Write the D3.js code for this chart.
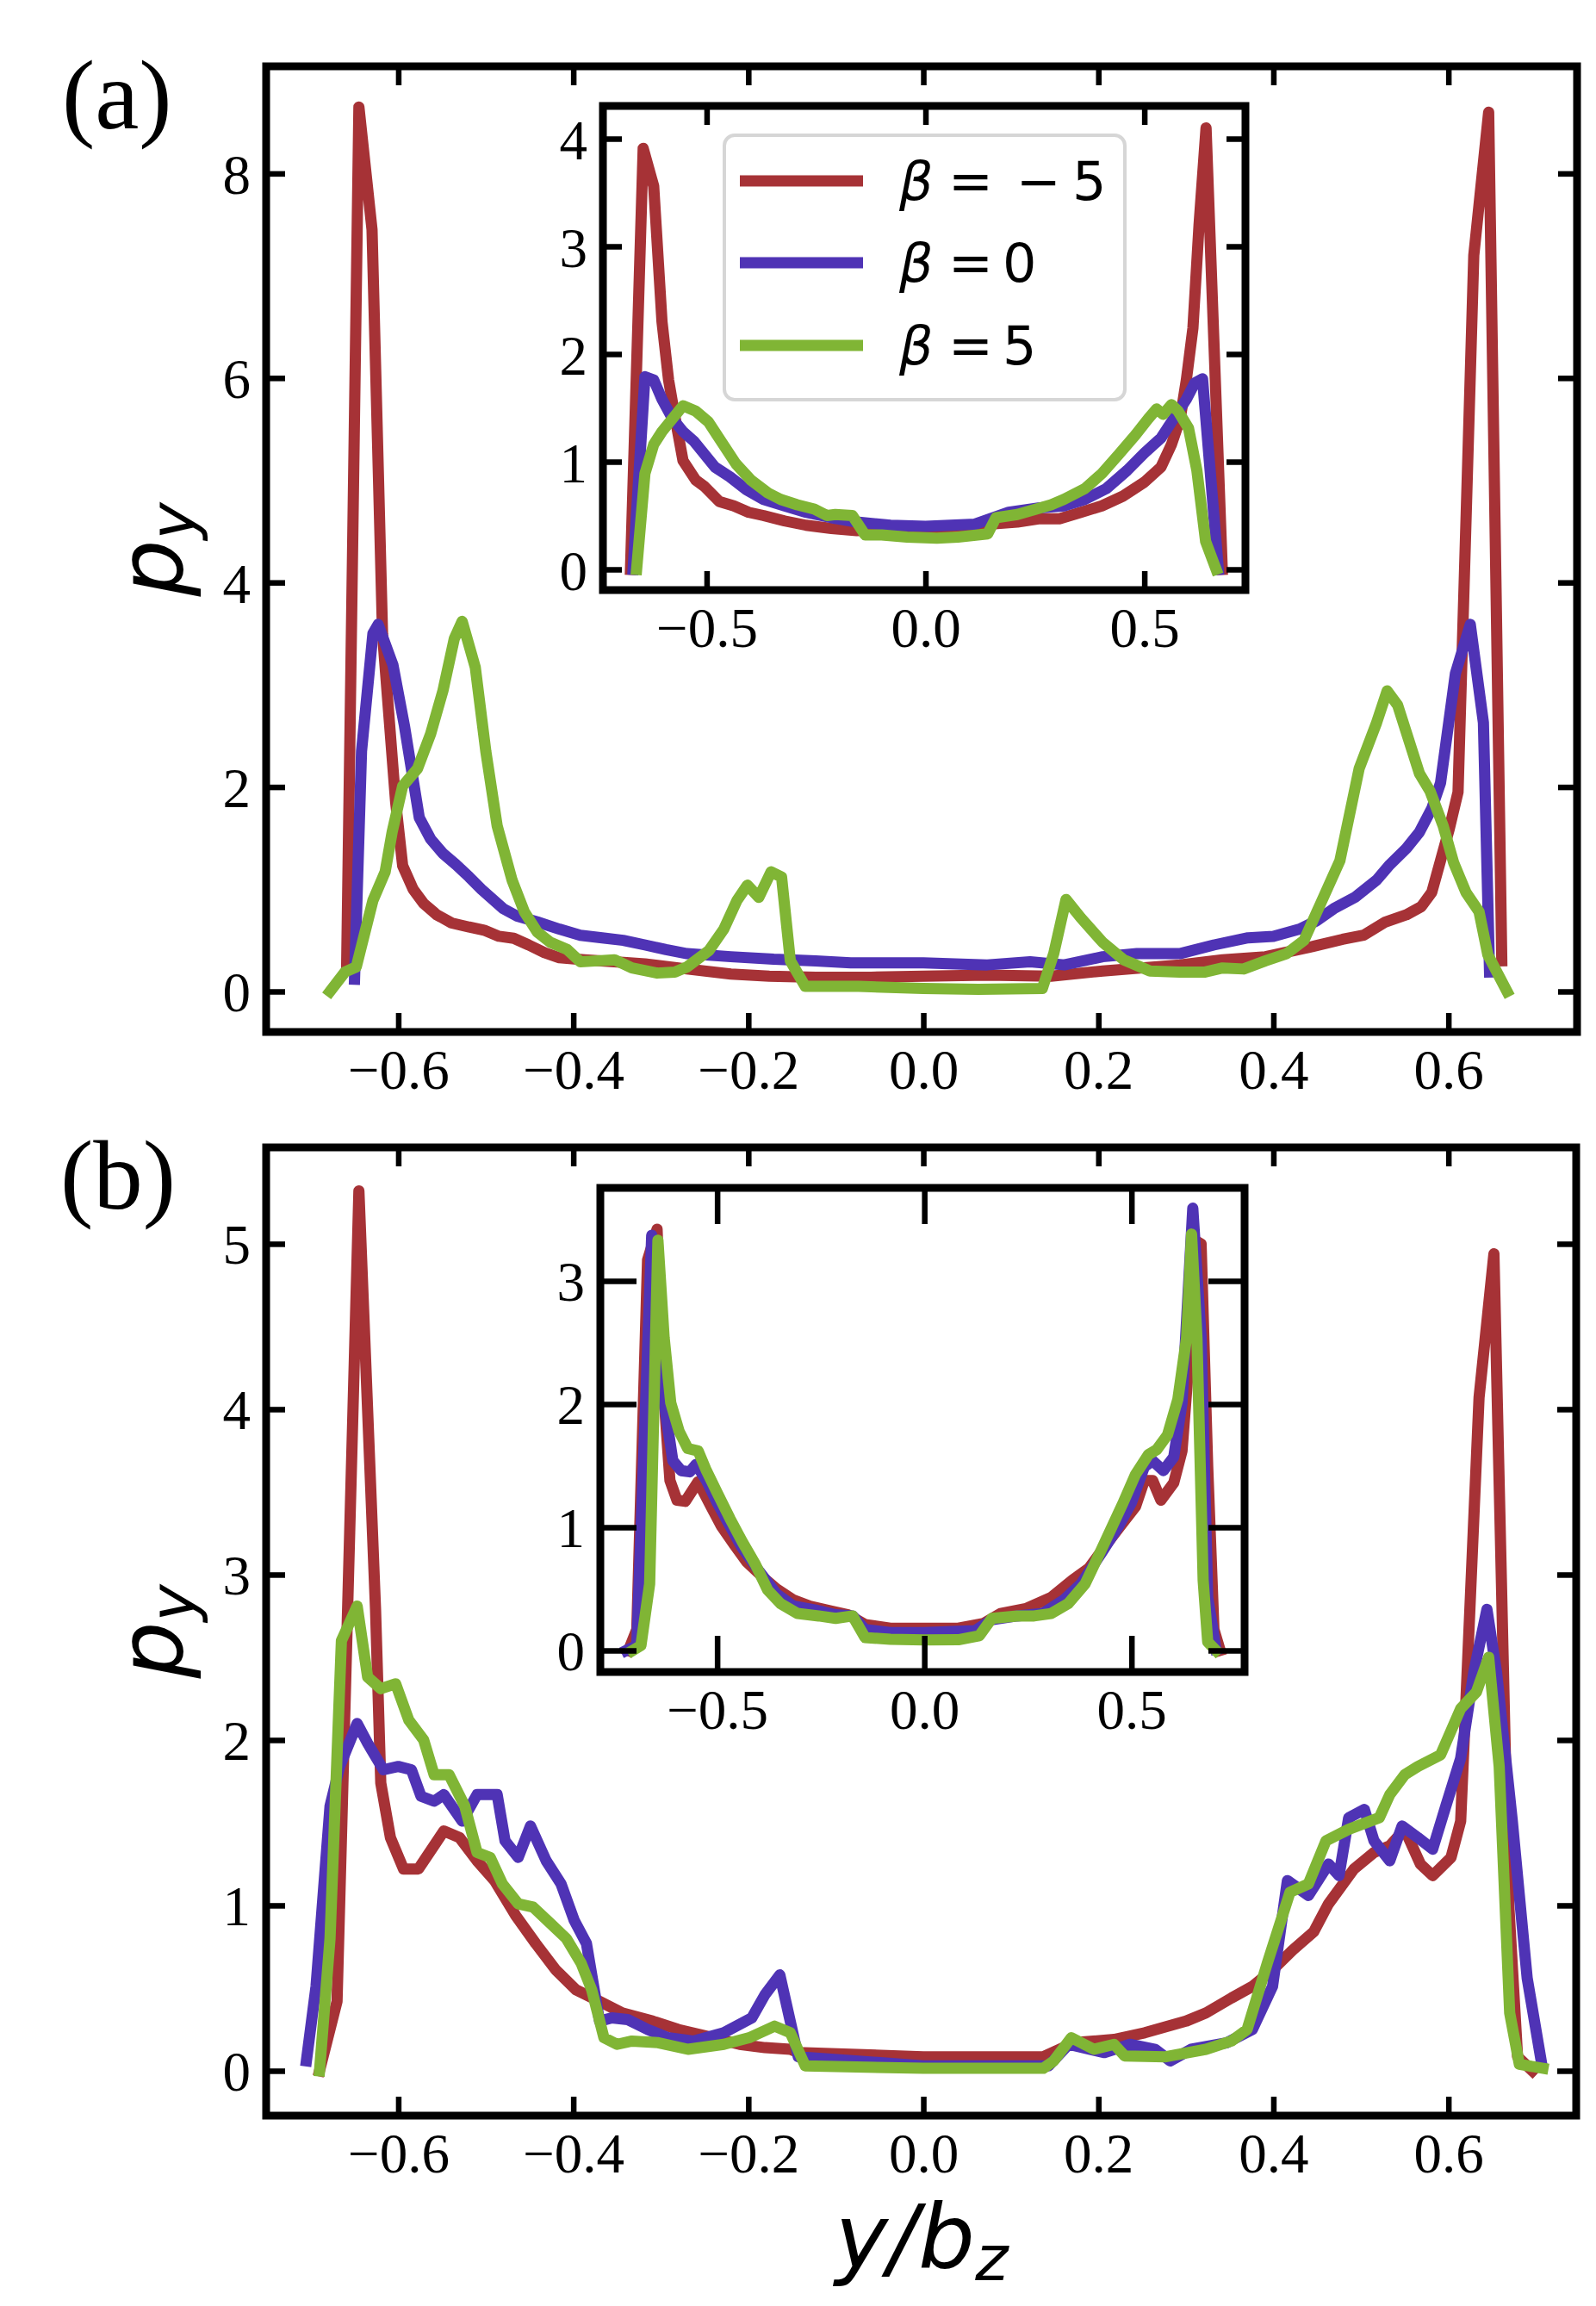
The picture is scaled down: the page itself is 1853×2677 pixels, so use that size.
<!DOCTYPE html>
<html>
<head>
<meta charset="utf-8">
<script src="https://cdn.jsdelivr.net/npm/d3@7"></script>
<style>
  html, body { margin: 0; padding: 0; background: #fff; }
  svg { display: block; }
</style>
</head>
<body>
<svg id="chart" width="1853" height="2677"></svg>
<script>
// ---------------- DATA ----------------
const seriesNames = ["\u03b2 = \u22125", "\u03b2 = 0", "\u03b2 = 5"];
const seriesColors = ["#a63236", "#4f33b5", "#80b535"];

const mainXTicks = [-0.6, -0.4, -0.2, 0.0, 0.2, 0.4, 0.6];
const insetXTicks = [-0.5, 0.0, 0.5];
const mainAYTicks = [0, 2, 4, 6, 8];
const mainBYTicks = [0, 1, 2, 3, 4, 5];
const insetAYTicks = [0, 1, 2, 3, 4];
const insetBYTicks = [0, 1, 2, 3];

// Panel (a), main axes
const aRed = [[-0.659,0.25],[-0.645,8.65],[-0.630,7.45],[-0.618,3.5],[-0.603,1.85],[-0.595,1.23],[-0.583,1.00],[-0.571,0.86],[-0.556,0.75],[-0.539,0.67],[-0.519,0.63],[-0.502,0.60],[-0.485,0.54],[-0.468,0.52],[-0.451,0.455],[-0.433,0.38],[-0.416,0.33],[-0.387,0.31],[-0.353,0.29],[-0.318,0.27],[-0.27,0.22],[-0.22,0.17],[-0.176,0.15],[-0.123,0.14],[-0.06,0.14],[0.0,0.15],[0.073,0.16],[0.146,0.15],[0.205,0.20],[0.293,0.26],[0.342,0.31],[0.391,0.34],[0.44,0.43],[0.479,0.51],[0.503,0.55],[0.528,0.68],[0.552,0.75],[0.569,0.83],[0.581,0.97],[0.591,1.28],[0.601,1.59],[0.611,1.95],[0.629,7.2],[0.646,8.6],[0.661,0.3]];
const aBlue = [[-0.650,0.12],[-0.642,2.35],[-0.629,3.5],[-0.623,3.59],[-0.606,3.19],[-0.593,2.6],[-0.576,1.70],[-0.563,1.49],[-0.549,1.35],[-0.534,1.24],[-0.519,1.12],[-0.505,1.0],[-0.48,0.81],[-0.465,0.74],[-0.441,0.68],[-0.416,0.61],[-0.392,0.55],[-0.367,0.525],[-0.343,0.50],[-0.318,0.455],[-0.294,0.41],[-0.27,0.37],[-0.22,0.34],[-0.171,0.315],[-0.123,0.30],[-0.083,0.28],[0.0,0.28],[0.073,0.26],[0.122,0.29],[0.161,0.26],[0.205,0.34],[0.244,0.37],[0.293,0.37],[0.332,0.455],[0.371,0.525],[0.40,0.54],[0.43,0.61],[0.449,0.69],[0.469,0.81],[0.493,0.92],[0.518,1.09],[0.533,1.24],[0.552,1.40],[0.567,1.56],[0.581,1.79],[0.591,2.04],[0.608,3.11],[0.625,3.59],[0.64,2.63],[0.647,0.19]];
const aGreen = [[-0.678,0.0],[-0.661,0.19],[-0.648,0.24],[-0.629,0.89],[-0.615,1.17],[-0.607,1.56],[-0.595,2.01],[-0.578,2.18],[-0.563,2.52],[-0.549,2.94],[-0.536,3.45],[-0.527,3.62],[-0.512,3.17],[-0.5,2.35],[-0.487,1.62],[-0.470,1.09],[-0.456,0.78],[-0.441,0.58],[-0.426,0.48],[-0.407,0.41],[-0.392,0.29],[-0.372,0.30],[-0.353,0.31],[-0.333,0.23],[-0.304,0.18],[-0.284,0.19],[-0.27,0.24],[-0.245,0.40],[-0.228,0.61],[-0.213,0.89],[-0.201,1.04],[-0.188,0.92],[-0.174,1.17],[-0.162,1.12],[-0.152,0.30],[-0.135,0.05],[-0.074,0.05],[0.0,0.03],[0.063,0.02],[0.136,0.03],[0.149,0.37],[0.163,0.90],[0.18,0.72],[0.205,0.48],[0.229,0.31],[0.259,0.20],[0.293,0.19],[0.322,0.19],[0.342,0.23],[0.366,0.22],[0.391,0.30],[0.415,0.37],[0.435,0.50],[0.454,0.86],[0.476,1.28],[0.498,2.18],[0.518,2.63],[0.530,2.94],[0.542,2.80],[0.567,2.13],[0.579,1.96],[0.594,1.62],[0.606,1.26],[0.62,0.97],[0.635,0.78],[0.645,0.36],[0.667,0.0]];

// Panel (a), inset
const aiRed = [[-0.674,0],[-0.645,3.91],[-0.621,3.56],[-0.602,2.30],[-0.587,1.76],[-0.573,1.43],[-0.554,1.01],[-0.525,0.83],[-0.505,0.77],[-0.471,0.63],[-0.438,0.59],[-0.404,0.53],[-0.37,0.50],[-0.322,0.45],[-0.273,0.41],[-0.215,0.38],[-0.157,0.36],[-0.08,0.37],[0,0.38],[0.113,0.41],[0.21,0.44],[0.258,0.47],[0.306,0.47],[0.355,0.53],[0.403,0.59],[0.451,0.68],[0.50,0.81],[0.538,0.95],[0.562,1.16],[0.582,1.40],[0.596,1.76],[0.611,2.24],[0.625,3.2],[0.641,4.1],[0.678,0]];
const aiBlue = [[-0.668,0],[-0.641,1.79],[-0.621,1.76],[-0.602,1.58],[-0.578,1.40],[-0.554,1.28],[-0.529,1.19],[-0.505,1.07],[-0.481,0.95],[-0.447,0.86],[-0.409,0.74],[-0.37,0.65],[-0.322,0.59],[-0.273,0.53],[-0.215,0.48],[-0.157,0.44],[-0.08,0.41],[0,0.40],[0.113,0.42],[0.19,0.53],[0.258,0.57],[0.316,0.59],[0.364,0.65],[0.413,0.75],[0.461,0.92],[0.50,1.08],[0.538,1.22],[0.567,1.40],[0.596,1.58],[0.615,1.73],[0.633,1.77],[0.669,0]];
const aiGreen = [[-0.66,0],[-0.641,0.89],[-0.621,1.16],[-0.602,1.28],[-0.578,1.40],[-0.554,1.52],[-0.525,1.47],[-0.496,1.37],[-0.467,1.19],[-0.433,0.98],[-0.399,0.83],[-0.36,0.71],[-0.331,0.65],[-0.293,0.60],[-0.254,0.56],[-0.225,0.50],[-0.206,0.51],[-0.167,0.50],[-0.138,0.32],[-0.1,0.32],[-0.042,0.30],[0.026,0.29],[0.074,0.30],[0.142,0.33],[0.161,0.48],[0.21,0.51],[0.253,0.56],[0.287,0.60],[0.316,0.65],[0.364,0.75],[0.403,0.89],[0.442,1.07],[0.48,1.25],[0.509,1.40],[0.528,1.49],[0.543,1.44],[0.562,1.53],[0.577,1.47],[0.601,1.31],[0.62,0.92],[0.64,0.26],[0.664,0]];

// Panel (b), main axes
const bRed = [[-0.69,0],[-0.67,0.42],[-0.645,5.32],[-0.626,2.79],[-0.62,1.74],[-0.609,1.41],[-0.594,1.22],[-0.577,1.22],[-0.548,1.45],[-0.53,1.41],[-0.51,1.27],[-0.49,1.15],[-0.466,0.94],[-0.443,0.77],[-0.42,0.61],[-0.397,0.49],[-0.37,0.42],[-0.344,0.35],[-0.309,0.30],[-0.28,0.25],[-0.24,0.20],[-0.21,0.16],[-0.181,0.14],[-0.152,0.13],[-0.143,0.11],[0,0.085],[0.137,0.085],[0.172,0.17],[0.218,0.19],[0.253,0.23],[0.3,0.30],[0.323,0.35],[0.352,0.44],[0.376,0.51],[0.399,0.61],[0.422,0.73],[0.446,0.84],[0.463,1.01],[0.492,1.22],[0.515,1.32],[0.533,1.36],[0.55,1.46],[0.568,1.25],[0.582,1.18],[0.603,1.29],[0.614,1.51],[0.635,4.07],[0.652,4.94],[0.669,1.0],[0.679,0.085],[0.696,0]];
const bBlue = [[-0.705,0.06],[-0.694,0.51],[-0.678,1.60],[-0.667,1.84],[-0.647,2.10],[-0.635,1.98],[-0.617,1.82],[-0.6,1.84],[-0.585,1.82],[-0.574,1.66],[-0.559,1.63],[-0.548,1.67],[-0.527,1.51],[-0.51,1.67],[-0.487,1.67],[-0.478,1.39],[-0.463,1.29],[-0.449,1.48],[-0.431,1.27],[-0.414,1.13],[-0.399,0.91],[-0.385,0.77],[-0.37,0.30],[-0.356,0.32],[-0.338,0.31],[-0.315,0.25],[-0.292,0.20],[-0.263,0.18],[-0.228,0.23],[-0.196,0.32],[-0.181,0.46],[-0.164,0.58],[-0.143,0.085],[0,0.03],[0.143,0.03],[0.166,0.16],[0.207,0.11],[0.236,0.16],[0.265,0.13],[0.282,0.06],[0.306,0.13],[0.347,0.17],[0.376,0.25],[0.399,0.51],[0.416,1.15],[0.44,1.06],[0.463,1.25],[0.475,1.18],[0.486,1.53],[0.504,1.58],[0.515,1.39],[0.533,1.27],[0.547,1.48],[0.565,1.41],[0.582,1.34],[0.597,1.60],[0.614,1.89],[0.629,2.41],[0.644,2.79],[0.655,2.41],[0.673,1.51],[0.69,0.56],[0.706,0.06]];
const bGreen = [[-0.69,0],[-0.678,0.80],[-0.665,2.60],[-0.647,2.81],[-0.635,2.38],[-0.62,2.31],[-0.603,2.34],[-0.588,2.12],[-0.571,2.0],[-0.559,1.79],[-0.542,1.79],[-0.524,1.60],[-0.51,1.32],[-0.495,1.29],[-0.481,1.13],[-0.463,1.01],[-0.446,0.99],[-0.426,0.89],[-0.408,0.80],[-0.391,0.65],[-0.379,0.49],[-0.365,0.20],[-0.35,0.16],[-0.333,0.18],[-0.303,0.17],[-0.269,0.13],[-0.228,0.16],[-0.199,0.20],[-0.17,0.27],[-0.152,0.23],[-0.135,0.03],[0,0.015],[0.137,0.015],[0.149,0.06],[0.169,0.20],[0.195,0.13],[0.218,0.16],[0.23,0.09],[0.277,0.085],[0.323,0.13],[0.352,0.18],[0.37,0.25],[0.393,0.65],[0.419,1.08],[0.44,1.13],[0.46,1.39],[0.486,1.46],[0.521,1.53],[0.533,1.67],[0.55,1.79],[0.565,1.84],[0.591,1.91],[0.614,2.19],[0.632,2.29],[0.646,2.50],[0.658,1.84],[0.67,0.35],[0.681,0.04],[0.708,0.015]];

// Panel (b), inset
const biRed = [[-0.714,0],[-0.694,0.17],[-0.668,3.17],[-0.645,3.42],[-0.633,2.28],[-0.614,1.38],[-0.597,1.22],[-0.577,1.21],[-0.546,1.37],[-0.515,1.17],[-0.49,1.01],[-0.459,0.86],[-0.429,0.72],[-0.388,0.59],[-0.357,0.50],[-0.316,0.41],[-0.276,0.36],[-0.224,0.32],[-0.184,0.29],[-0.143,0.21],[-0.082,0.18],[0.0,0.18],[0.082,0.18],[0.143,0.22],[0.184,0.30],[0.245,0.34],[0.306,0.43],[0.357,0.57],[0.398,0.67],[0.439,0.86],[0.48,1.04],[0.51,1.17],[0.531,1.38],[0.551,1.38],[0.571,1.22],[0.602,1.36],[0.622,1.62],[0.643,2.54],[0.653,3.33],[0.668,3.30],[0.684,1.49],[0.699,0.17],[0.714,0]];
const biBlue = [[-0.719,0],[-0.694,0.04],[-0.658,3.37],[-0.643,3.07],[-0.628,2.01],[-0.607,1.54],[-0.587,1.46],[-0.566,1.45],[-0.551,1.51],[-0.526,1.38],[-0.5,1.20],[-0.469,1.01],[-0.439,0.83],[-0.398,0.64],[-0.357,0.46],[-0.316,0.36],[-0.265,0.33],[-0.214,0.29],[-0.173,0.28],[-0.143,0.17],[-0.082,0.145],[0,0.145],[0.122,0.16],[0.163,0.25],[0.224,0.28],[0.286,0.30],[0.337,0.41],[0.378,0.54],[0.429,0.80],[0.469,1.01],[0.5,1.20],[0.531,1.49],[0.551,1.54],[0.577,1.46],[0.602,1.57],[0.622,2.01],[0.648,3.59],[0.668,2.54],[0.684,0.43],[0.704,0.01]];
const biGreen = [[-0.704,0],[-0.684,0.04],[-0.663,0.54],[-0.643,3.33],[-0.628,2.54],[-0.612,2.01],[-0.592,1.78],[-0.571,1.64],[-0.546,1.62],[-0.526,1.46],[-0.5,1.28],[-0.469,1.07],[-0.439,0.88],[-0.408,0.70],[-0.378,0.49],[-0.347,0.38],[-0.306,0.30],[-0.255,0.28],[-0.214,0.26],[-0.173,0.28],[-0.143,0.105],[-0.082,0.09],[0,0.085],[0.082,0.087],[0.133,0.12],[0.163,0.26],[0.224,0.28],[0.265,0.28],[0.306,0.30],[0.347,0.38],[0.388,0.54],[0.429,0.83],[0.48,1.20],[0.51,1.43],[0.541,1.59],[0.561,1.63],[0.587,1.75],[0.612,2.04],[0.633,2.54],[0.645,3.38],[0.658,2.54],[0.673,0.57],[0.684,0.07],[0.704,0]];

// ---------------- DRAWING ----------------
const svg = d3.select("#chart");
svg.append("rect").attr("width", 1853).attr("height", 2677).attr("fill", "#fff");

const TICK_FONT = "'Liberation Serif', 'Times New Roman', serif";
const SANS = "'DejaVu Sans', sans-serif";
const LINE_W = 13;

function fmtX(d) { return (d < 0 ? "\u2212" : "") + Math.abs(d).toFixed(1); }
function fmtY(d) { return String(d); }

function drawAxes(cfg) {
  const g = svg.append("g");
  const x = d3.scaleLinear().domain(cfg.xdom).range([cfg.x0, cfg.x1]);
  const y = d3.scaleLinear().domain(cfg.ydom).range([cfg.y1, cfg.y0]);

  if (cfg.bg) {
    g.append("rect").attr("x", cfg.x0).attr("y", cfg.y0)
      .attr("width", cfg.x1 - cfg.x0).attr("height", cfg.y1 - cfg.y0)
      .attr("fill", "#fff");
  }

  const clipId = "clip" + Math.round(cfg.x0) + "_" + Math.round(cfg.y0);
  g.append("clipPath").attr("id", clipId).append("rect")
    .attr("x", cfg.x0).attr("y", cfg.y0)
    .attr("width", cfg.x1 - cfg.x0).attr("height", cfg.y1 - cfg.y0);

  const line = d3.line().x(d => x(d[0])).y(d => y(d[1]));
  const lg = g.append("g").attr("clip-path", `url(#${clipId})`);
  cfg.series.forEach((s, i) => {
    lg.append("path").datum(s).attr("d", line)
      .attr("fill", "none").attr("stroke", seriesColors[i])
      .attr("stroke-width", LINE_W).attr("stroke-linejoin", "round")
      .attr("stroke-linecap", "square");
  });

  const L = cfg.tickLen;
  const axB = g.append("g").attr("transform", `translate(0,${cfg.y1})`)
    .call(d3.axisBottom(x).tickValues(cfg.xticks).tickFormat(fmtX).tickSizeInner(-L).tickSizeOuter(0));
  const axT = g.append("g").attr("transform", `translate(0,${cfg.y0})`)
    .call(d3.axisTop(x).tickValues(cfg.xticks).tickFormat("").tickSizeInner(-L).tickSizeOuter(0));
  const axL = g.append("g").attr("transform", `translate(${cfg.x0},0)`)
    .call(d3.axisLeft(y).tickValues(cfg.yticks).tickFormat(fmtY).tickSizeInner(-L).tickSizeOuter(0));
  const axR = g.append("g").attr("transform", `translate(${cfg.x1},0)`)
    .call(d3.axisRight(y).tickValues(cfg.yticks).tickFormat("").tickSizeInner(-L).tickSizeOuter(0));

  [axB, axT, axL, axR].forEach(a => {
    a.select(".domain").remove();
    a.selectAll(".tick line").attr("stroke", "#000").attr("stroke-width", 6.5);
    a.selectAll("text").attr("font-family", TICK_FONT).attr("font-size", 65).attr("fill", "#000");
  });
  axB.selectAll("text").attr("dy", null).attr("y", 66);
  axL.selectAll("text").attr("dy", null).attr("x", -18).attr("y", 23);

  g.append("rect").attr("x", cfg.x0).attr("y", cfg.y0)
    .attr("width", cfg.x1 - cfg.x0).attr("height", cfg.y1 - cfg.y0)
    .attr("fill", "none").attr("stroke", "#000").attr("stroke-width", 9);
  return g;
}

function yLabel(cx, cy) {
  const t = svg.append("text")
    .attr("transform", `translate(${cx},${cy}) rotate(-90)`)
    .attr("text-anchor", "middle")
    .attr("font-family", SANS).attr("font-style", "italic")
    .attr("font-size", 104).attr("fill", "#000");
  t.append("tspan").text("p");
  t.append("tspan").attr("font-size", 73).attr("dy", 14).text("y");
}

// Panel (a)
drawAxes({x0: 309, x1: 1831, y0: 77, y1: 1198, xdom: [-0.751, 0.747], ydom: [-0.396, 9.048],
  xticks: mainXTicks, yticks: mainAYTicks, tickLen: 22, series: [aRed, aBlue, aGreen]});
drawAxes({x0: 700, x1: 1446, y0: 123, y1: 685, xdom: [-0.737, 0.731], ydom: [-0.192, 4.304],
  xticks: insetXTicks, yticks: insetAYTicks, tickLen: 22, bg: true, series: [aiRed, aiBlue, aiGreen]});

// Legend in inset (a)
const leg = svg.append("g");
leg.append("rect").attr("x", 841).attr("y", 157).attr("width", 465).attr("height", 307)
  .attr("rx", 12).attr("fill", "#fff").attr("stroke", "#d6d6d6").attr("stroke-width", 4);
const legRows = [210, 305, 401];
seriesNames.forEach((name, i) => {
  leg.append("line").attr("x1", 859).attr("x2", 1002).attr("y1", legRows[i]).attr("y2", legRows[i])
    .attr("stroke", seriesColors[i]).attr("stroke-width", LINE_W);
  const t = leg.append("text").attr("y", legRows[i] + 22)
    .attr("font-family", SANS).attr("font-size", 62).attr("fill", "#000");
  t.append("tspan").attr("x", 1044).attr("font-style", "italic").text("\u03b2");
  t.append("tspan").attr("x", 1101).text("=");
  if (i === 0) {
    t.append("tspan").attr("x", 1180).text("\u2212");
    t.append("tspan").attr("x", 1245).text("5");
  } else {
    t.append("tspan").attr("x", 1164).text(i === 1 ? "0" : "5");
  }
});

// Panel (b)
drawAxes({x0: 309, x1: 1830, y0: 1332, y1: 2456, xdom: [-0.751, 0.746], ydom: [-0.271, 5.583],
  xticks: mainXTicks, yticks: mainBYTicks, tickLen: 22, series: [bRed, bBlue, bGreen]});
drawAxes({x0: 697, x1: 1445, y0: 1379, y1: 1941, xdom: [-0.782, 0.773], ydom: [-0.175, 3.755],
  xticks: insetXTicks, yticks: insetBYTicks, tickLen: 42, bg: true, series: [biRed, biBlue, biGreen]});

// Labels
yLabel(212, 638);
yLabel(212, 1894);

const xl = svg.append("text").attr("x", 1070).attr("y", 2633).attr("text-anchor", "middle")
  .attr("font-family", SANS).attr("font-style", "italic").attr("font-size", 104).attr("fill", "#000");
xl.append("tspan").text("y/b");
xl.append("tspan").attr("font-size", 73).attr("dy", 14).text("z");

svg.append("text").attr("x", 72).attr("y", 149).attr("font-family", TICK_FONT)
  .attr("font-size", 115).attr("fill", "#000").text("(a)");
svg.append("text").attr("x", 70).attr("y", 1403).attr("font-family", TICK_FONT)
  .attr("font-size", 115).attr("fill", "#000").text("(b)");
</script>
</body>
</html>
